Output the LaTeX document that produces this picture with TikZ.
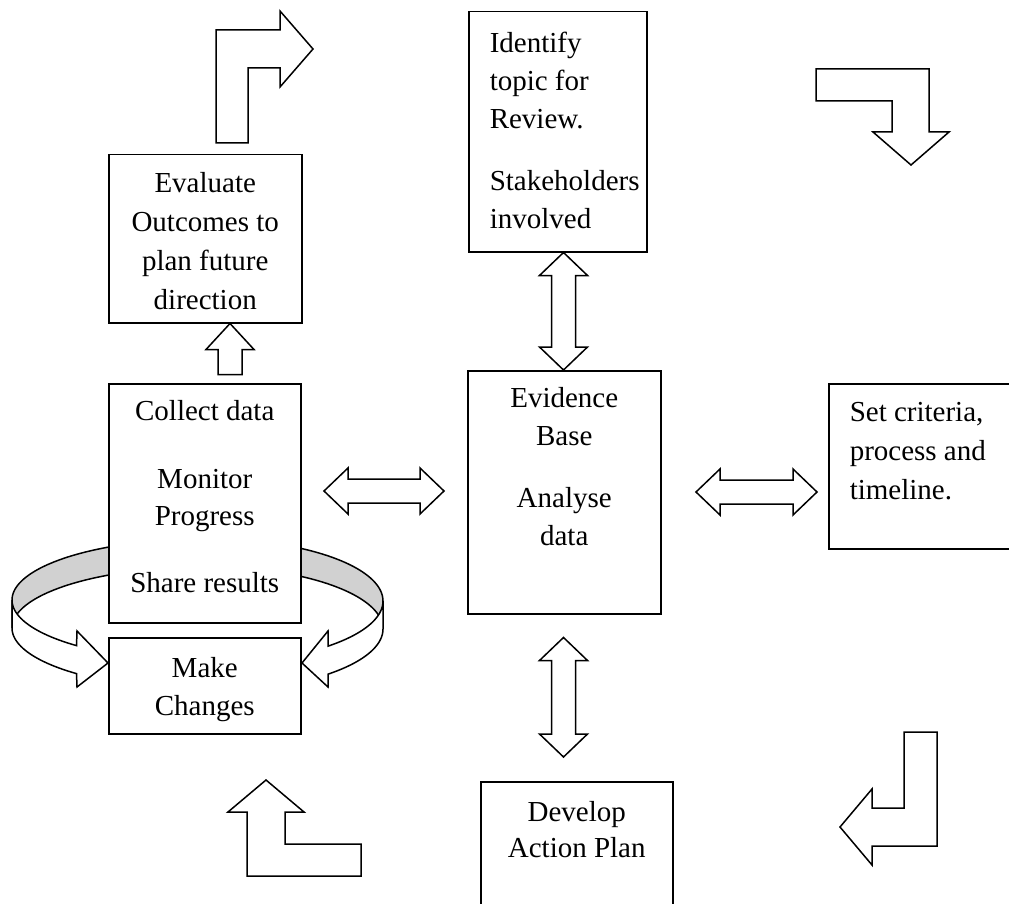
\documentclass[tikz,border=0pt]{standalone}
\usepackage{fontspec}
\setmainfont{Liberation Serif}
\usetikzlibrary{calc,backgrounds}
\newcommand{\bx}[3]{\parbox[c][#2][t]{#1}{\fontsize{29pt}{38pt}\selectfont #3}}
\newcommand{\fb}[1]{\vspace*{\dimexpr#1-20pt\relax}\rule{0pt}{20pt}}
\newcommand{\vdbl}[2]{\draw[blk] (#1) -- ($(#1)+(24,23)$) -- ($(#1)+(12,23)$) -- ($(#2)+(12,-23)$) -- ($(#2)+(24,-23)$) -- (#2) -- ($(#2)+(-24,-23)$) -- ($(#2)+(-12,-23)$) -- ($(#1)+(-12,23)$) -- ($(#1)+(-24,23)$) -- cycle;}
\newcommand{\hdbl}[2]{\draw[blk] (#1) -- ($(#1)+(24,-23)$) -- ($(#1)+(24,-12)$) -- ($(#2)+(-24,-12)$) -- ($(#2)+(-24,-23)$) -- (#2) -- ($(#2)+(-24,23)$) -- ($(#2)+(-24,12)$) -- ($(#1)+(24,12)$) -- ($(#1)+(24,23)$) -- cycle;}
\begin{document}
\begin{tikzpicture}[x=1pt,y=-1pt,
  box/.style={draw, line width=1.5pt, fill=white, inner sep=0pt, anchor=north west},
  blk/.style={draw, line width=1.5pt, fill=white, line join=miter}]
\useasboundingbox (0,0) rectangle (1009,904);

% boxes
\node[box] (ident) at (468,11) {\bx{178pt}{240pt}{\raggedright\leftskip=21pt\fb{40.5pt}Identify\\topic for\\Review.\\[24pt]Stakeholders\\involved}};
\node[box] (eval) at (108,154) {\bx{193pt}{168pt}{\centering\setlength\baselineskip{39pt}\fb{38pt}Evaluate\\Outcomes to\\plan future\\direction}};
\node[box] (coll) at (108,383) {\bx{192pt}{239pt}{\centering\setlength\baselineskip{37pt}\fb{36.5pt}Collect data\\[31pt]Monitor\\Progress\\[30pt]Share results}};
\node[box] (make) at (108,637) {\bx{192pt}{96pt}{\centering\fb{39.5pt}Make\\Changes}};
\node[box] (evid) at (467,370) {\bx{193pt}{243pt}{\centering\fb{37pt}Evidence\\Base\\[24pt]Analyse\\data}};
\node[box] (crit) at (828,383) {\bx{200pt}{165pt}{\raggedright\leftskip=21pt\setlength\baselineskip{39pt}\fb{38pt}Set criteria,\\process and\\timeline.}};
\node[box] (devel) at (480,781) {\bx{192pt}{140pt}{\centering\setlength\baselineskip{35.5pt}\fb{40pt}Develop\\Action Plan}};

% connectors between boxes
\coordinate (ax) at (563.5,0);
\coordinate (t1) at (ident.south -| ax);
\coordinate (t2) at (evid.north -| ax);
\vdbl{t1}{t2}
\coordinate (t3) at ($(evid.south -| ax)+(0,23)$);
\coordinate (t4) at ($(devel.north -| ax)+(0,-24)$);
\vdbl{t3}{t4}
\coordinate (h1) at (324,491);
\coordinate (h2) at (444,491);
\hdbl{h1}{h2}
\coordinate (h3) at (696,492);
\coordinate (h4) at (817,492);
\hdbl{h3}{h4}
\coordinate (ux) at (230,0);
\coordinate (u1) at (eval.south -| ux);
\draw[blk] (u1) -- ($(u1)+(24,26)$) -- ($(u1)+(12,26)$) -- ($(u1)+(12,51)$) -- ($(u1)+(-12,51)$) -- ($(u1)+(-12,26)$) -- ($(u1)+(-24,26)$) -- cycle;

% bent cycle arrows
\draw[blk] (216,143) -- (216,30) -- (280,30) -- (280,11) -- (313,49) -- (280,87) -- (280,68) -- (248,68) -- (248,143) -- cycle;
\draw[blk] (816,69) -- (929,69) -- (929,132) -- (949,132) -- (911,165) -- (873,132) -- (892,132) -- (892,101) -- (816,101) -- cycle;
\draw[blk] (266,780) -- (304,812) -- (285,812) -- (285,844) -- (361,844) -- (361,876) -- (247,876) -- (247,812) -- (228,812) -- cycle;
\draw[blk] (904,732) -- (937,732) -- (937,846) -- (872,846) -- (872,865) -- (840,827) -- (872,789) -- (872,808) -- (904,808) -- cycle;

% curved ribbons around the collect box
\begin{scope}[on background layer]
\draw[blk, fill=black!18] plot[domain=245:180,samples=40,variable=\t] ({204+192*cos(\t)},{600+61*sin(\t)}) -- plot[domain=180:245,samples=40,variable=\t] ({204+192*cos(\t)},{628+61*sin(\t)}) -- cycle;
\draw[blk] plot[domain=180:131.6,samples=40,variable=\t] ({204+192*cos(\t)},{600+61*sin(\t)}) -- (77,631) -- (108,663) -- (77,687) -- plot[domain=131.6:180,samples=40,variable=\t] ({204+192*cos(\t)},{628+61*sin(\t)}) -- cycle;
\draw[blk, fill=black!18] plot[domain=295:360,samples=40,variable=\t] ({204+179*cos(\t)},{601+62.6*sin(\t)}) -- plot[domain=360:295,samples=40,variable=\t] ({204+179*cos(\t)},{629+62.6*sin(\t)}) -- cycle;
\draw[blk] plot[domain=0:46.1,samples=40,variable=\t] ({204+179*cos(\t)},{601+62.6*sin(\t)}) -- (328,631) -- (302,663) -- (328,687) -- plot[domain=46.1:0,samples=40,variable=\t] ({204+179*cos(\t)},{629+62.6*sin(\t)}) -- cycle;
\end{scope}
\end{tikzpicture}
\end{document}
